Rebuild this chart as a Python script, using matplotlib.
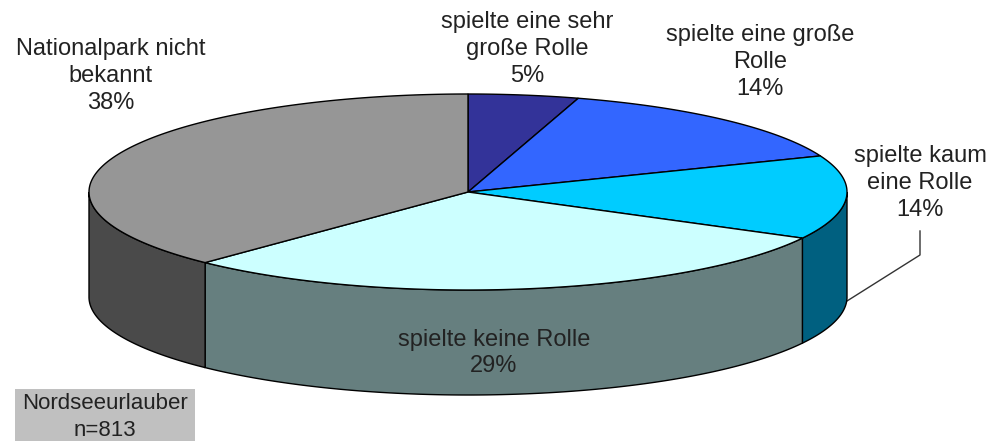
import numpy as np
import matplotlib
matplotlib.use("Agg")
import matplotlib.pyplot as plt
from matplotlib.patches import Polygon

plt.rcParams["font.family"] = ["Liberation Sans", "DejaVu Sans"]

# Anteile im Uhrzeigersinn, Start oben (Labels gerundet)
labels = ["spielte eine sehr\ngroße Rolle\n5%",
          "spielte eine große\nRolle\n14%",
          "spielte kaum\neine Rolle\n14%",
          "spielte keine Rolle\n29%",
          "Nationalpark nicht\nbekannt\n38%"]
values = [4.7, 14.3, 13.8, 29.4, 37.8]
top_colors = ["#333399", "#3366ff", "#00ccff", "#ccffff", "#969696"]
side_colors = ["#1f1f5c", "#1f3d99", "#006080", "#667f7f", "#4a4a4a"]

label_pos = [(527, 49), (760, 62), (920, 183), (494, 353), (111, 76)]

cx, cy = 468, 192
rx, ry = 379, 98
depth = 105


def rim(a0, a1):
    # Punkte auf dem Rand, Winkel ab 12 Uhr im Uhrzeigersinn
    t = np.radians(np.linspace(a0, a1, 200))
    return cx + rx * np.sin(t), cy - ry * np.cos(t)


fig = plt.figure(figsize=(9.92, 4.41), dpi=100)
ax = fig.add_axes([0, 0, 1, 1])
ax.set_xlim(0, 992)
ax.set_ylim(441, 0)
ax.axis("off")

edges = np.cumsum([0] + values) / sum(values) * 360

# Seitenwand, nur der vordere Teil (90 bis 270 Grad)
for i in range(len(values)):
    a0, a1 = max(edges[i], 90), min(edges[i + 1], 270)
    if a1 <= a0:
        continue
    x, y = rim(a0, a1)
    pts = np.r_[np.c_[x, y], np.c_[x[::-1], y[::-1] + depth]]
    ax.add_patch(Polygon(pts, closed=True, fc=side_colors[i], ec="black", lw=1, zorder=2))

# Deckflaeche
for i in range(len(values)):
    x, y = rim(edges[i], edges[i + 1])
    pts = np.r_[[[cx, cy]], np.c_[x, y]]
    ax.add_patch(Polygon(pts, closed=True, fc=top_colors[i], ec="black", lw=1, zorder=3))

# Fuehrungslinie zum Label
ax.plot([920, 920, 847], [231, 255, 301], color="#333333", lw=1, zorder=1)

for text, (tx, ty) in zip(labels, label_pos):
    ax.text(tx, ty, text, ha="center", va="center", fontsize=17, color="#222222",
            linespacing=1.29, zorder=5)

# Stichprobe
ax.add_patch(plt.Rectangle((15, 389), 180, 52, fc="#c0c0c0", ec="none", zorder=4))
ax.text(105, 417, "Nordseeurlauber\nn=813", ha="center", va="center", fontsize=16,
        color="#222222", linespacing=1.36, zorder=5)

fig.savefig("out.png", dpi=100)
